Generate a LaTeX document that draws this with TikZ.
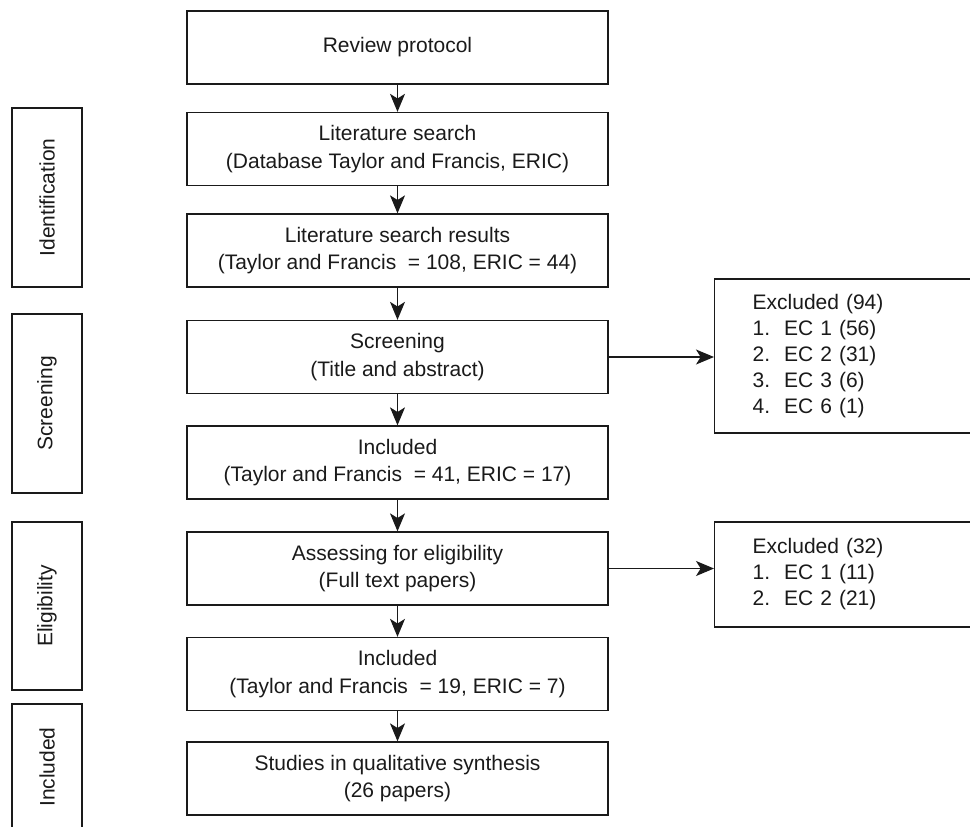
\documentclass[tikz,border=0pt]{standalone}
\usepackage{fontspec}
\setmainfont{Liberation Sans}
\usetikzlibrary{arrows.meta}
\definecolor{ink}{HTML}{1A1A1A}
\begin{document}
\begin{tikzpicture}[x={(0.75pt,0)},y={(0,-0.75pt)},
  mainbox/.style={draw=ink, line width=1pt, minimum width=315.75pt, minimum height=54.75pt,
    inner sep=0pt, align=center, text=ink, font=\fontsize{15.75pt}{20.5pt}\selectfont},
  sidebox/.style={draw=ink, line width=1pt, minimum height=52.5pt, inner sep=0pt,
    rotate=90, text=ink, font=\fontsize{15.75pt}{20pt}\selectfont},
  exbox/.style={draw=ink, line width=1pt, anchor=west, inner xsep=28.5pt, inner ysep=0pt,
    text width=168pt, align=left, text=ink, font=\fontsize{15.75pt}{19.5pt}\selectfont},
  flow/.style={draw=ink, line width=0.9pt, -{Stealth[length=13.5pt, width=11.25pt, inset=3.5pt]}}
]
\useasboundingbox (0,0) rectangle (970,826);

% main column
\node[mainbox] (rev) at (397.5,47.5) {Review protocol};
\node[mainbox] (lit) at (397.5,149) {Literature search\\(Database Taylor and Francis, ERIC)};
\node[mainbox] (res) at (397.5,250.5) {Literature search results\\(Taylor and Francis\ \ = 108, ERIC = 44)};
\node[mainbox] (scr) at (397.5,357) {Screening\\(Title and abstract)};
\node[mainbox] (inc) at (397.5,462.5) {Included\\(Taylor and Francis\ \ = 41, ERIC = 17)};
\node[mainbox] (ass) at (397.5,568.5) {Assessing for eligibility\\(Full text papers)};
\node[mainbox] (incb) at (397.5,674) {Included\\(Taylor and Francis\ \ = 19, ERIC = 7)};
\node[mainbox] (stu) at (397.5,778.5) {Studies in qualitative synthesis\\(26 papers)};

% side stage labels
\node[sidebox, minimum width=134.25pt] (sid) at (47,197.5) {Identification};
\node[sidebox, minimum width=134.25pt] (sscr) at (47,403.5) {Screening};
\node[sidebox, minimum width=126pt] (selig) at (47,606) {Eligibility};
\node[sidebox, minimum width=94.5pt] (sinc) at (47,767) {Included};

% excluded boxes
\node[exbox, minimum height=115.5pt] (ex1) at (714,356) {Excluded (94)\\1.\ \ EC 1 (56)\\2.\ \ EC 2 (31)\\3.\ \ EC 3 (6)\\4.\ \ EC 6 (1)};
\node[exbox, minimum height=78.75pt] (ex2) at (714,574.5) {Excluded (32)\\1.\ \ EC 1 (11)\\2.\ \ EC 2 (21)};

% connectors
\draw[flow] (rev) -- (lit);
\draw[flow] (lit) -- (res);
\draw[flow] (res) -- (scr);
\draw[flow] (scr) -- (inc);
\draw[flow] (inc) -- (ass);
\draw[flow] (ass) -- (incb);
\draw[flow] (incb) -- (stu);
\draw[flow] (scr.east) -- (scr.east -| ex1.west);
\draw[flow] (ass.east) -- (ass.east -| ex2.west);
\end{tikzpicture}
\end{document}
